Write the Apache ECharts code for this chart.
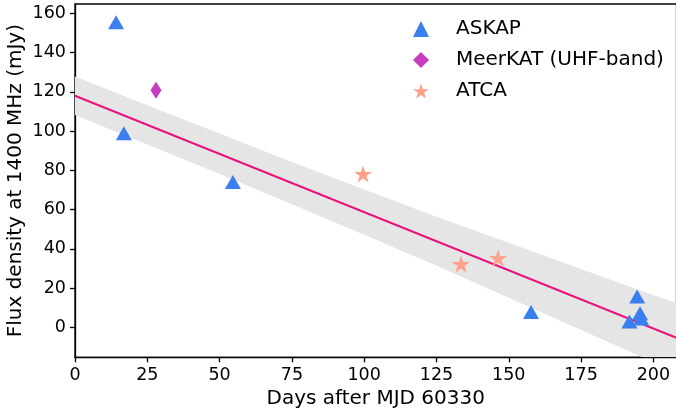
<!DOCTYPE html>
<html>
<head>
<meta charset="utf-8">
<script src="https://cdn.jsdelivr.net/npm/echarts@6/dist/echarts.min.js"></script>
<style>
  html, body { margin: 0; padding: 0; background: #fff; }
  #chart { width: 676px; height: 411px; }
</style>
</head>
<body>
<div id="chart"></div>
<script>
// Flux density measurements (days after MJD 60330, mJy)
const askapDays = [14.2, 16.9, 54.6, 157.7, 191.7, 194.4, 195.4, 195.8];
const askapFlux = [155.4, 98.9, 74.0, 7.9, 3.0, 15.7, 7.2, 4.6];
const meerkatDays = [28.0];
const meerkatFlux = [120.8];
const atcaDays = [99.6, 133.5, 146.3];
const atcaFlux = [78.1, 32.3, 35.3];

// Linear decline fit and its uncertainty band
const fitDays = [0, 210];
const fitFlux = [118.0, -6.5];
const bandDays = [0, 25, 50, 75, 100, 125, 150, 175, 200, 210];
const bandUpper = [127.8, 113.2, 98.7, 84.3, 70.2, 56.4, 43.1, 29.7, 16.4, 11.3];
const bandLower = [108.2, 93.2, 78.1, 62.7, 47.2, 31.4, 15.1, -1.3, -17.6, -24.3];

// Axis ticks
const xTicks = [0, 25, 50, 75, 100, 125, 150, 175, 200];
const yTicks = [0, 20, 40, 60, 80, 100, 120, 140, 160];

const pairs = (xs, ys) => xs.map((x, i) => [x, ys[i]]);

const starPath = 'path://M50 0 L61.17 34.63 L97.55 34.55 L68.07 55.87 L79.39 90.45 L50 69 L20.61 90.45 L31.93 55.87 L2.45 34.55 L38.83 34.63 Z';

const FONT = 'DejaVu Sans';
const C_ASKAP = '#3a7fee';
const C_MEER = '#c73cc0';
const C_ATCA = '#ffa088';
const C_FIT = '#e8127a';

const chart = echarts.init(document.getElementById('chart'), null, { renderer: 'canvas' });

// Shaded band: polygon along the upper edge, back along the lower edge
function renderBand(params, api) {
  const pts = [];
  for (let i = 0; i < bandDays.length; i++) pts.push(api.coord([bandDays[i], bandUpper[i]]));
  for (let i = bandDays.length - 1; i >= 0; i--) pts.push(api.coord([bandDays[i], bandLower[i]]));
  const cs = params.coordSys;
  return {
    type: 'group',
    children: [{
      type: 'polygon',
      shape: { points: pts },
      style: { fill: '#e5e5e5' },
      silent: true
    }],
    clipPath: {
      type: 'rect',
      shape: { x: cs.x, y: cs.y, width: cs.width, height: cs.height }
    }
  };
}

chart.setOption({
  animation: false,
  backgroundColor: '#ffffff',
  textStyle: { fontFamily: FONT },
  grid: {
    left: 75, top: 4, width: 601.5, height: 353.3,
    outerBoundsMode: 'none', containLabel: false,
    show: true, borderColor: '#000', borderWidth: 1.3, backgroundColor: 'transparent'
  },
  legend: {
    left: 408, top: 14, orient: 'vertical', itemGap: 11,
    itemWidth: 16, itemHeight: 16,
    textStyle: { fontFamily: FONT, fontSize: 20, lineHeight: 20, color: '#000', padding: [0, 0, 0, 22] },
    data: [
      { name: 'ASKAP', icon: 'triangle', itemStyle: { color: C_ASKAP } },
      { name: 'MeerKAT (UHF-band)', icon: 'diamond', itemStyle: { color: C_MEER } },
      { name: 'ATCA', icon: starPath, itemStyle: { color: C_ATCA } }
    ]
  },
  xAxis: {
    type: 'value', min: 0, max: 208,
    name: 'Days after MJD 60330', nameLocation: 'middle', nameGap: 30,
    nameTextStyle: { fontFamily: FONT, fontSize: 20, color: '#000' },
    axisLine: { show: true, onZero: false, lineStyle: { color: '#000', width: 1.3 } },
    axisTick: { show: true, length: 5, lineStyle: { color: '#000', width: 1.3 }, customValues: xTicks },
    axisLabel: { fontFamily: FONT, fontSize: 17.5, color: '#000', margin: 9, customValues: xTicks },
    splitLine: { show: false }
  },
  yAxis: {
    type: 'value', min: -15.2, max: 164.7,
    name: 'Flux density at 1400 MHz (mJy)', nameLocation: 'middle', nameGap: 49,
    nameMoveOverlap: false,
    nameTextStyle: { fontFamily: FONT, fontSize: 20, color: '#000' },
    axisLine: { show: true, onZero: false, lineStyle: { color: '#000', width: 1.3 } },
    axisTick: { show: true, length: 5, lineStyle: { color: '#000', width: 1.3 }, customValues: yTicks },
    axisLabel: { fontFamily: FONT, fontSize: 17.5, color: '#000', margin: 9, customValues: yTicks },
    splitLine: { show: false }
  },
  series: [
    {
      name: 'band', type: 'custom', renderItem: renderBand,
      data: [0], silent: true, z: 1, clip: true
    },
    {
      name: 'fit', type: 'line', data: pairs(fitDays, fitFlux),
      symbol: 'none', lineStyle: { color: C_FIT, width: 2 }, silent: true, z: 2
    },
    {
      name: 'ASKAP', type: 'scatter', data: pairs(askapDays, askapFlux),
      symbol: 'triangle', symbolSize: [16, 14], itemStyle: { color: C_ASKAP, opacity: 1 }, z: 3
    },
    {
      name: 'MeerKAT (UHF-band)', type: 'scatter', data: pairs(meerkatDays, meerkatFlux),
      symbol: 'diamond', symbolSize: [11, 17], itemStyle: { color: C_MEER, opacity: 1 }, z: 3
    },
    {
      name: 'ATCA', type: 'scatter', data: pairs(atcaDays, atcaFlux),
      symbol: starPath, symbolSize: [18, 17], itemStyle: { color: C_ATCA, opacity: 1 }, z: 3
    }
  ]
});
</script>
</body>
</html>
